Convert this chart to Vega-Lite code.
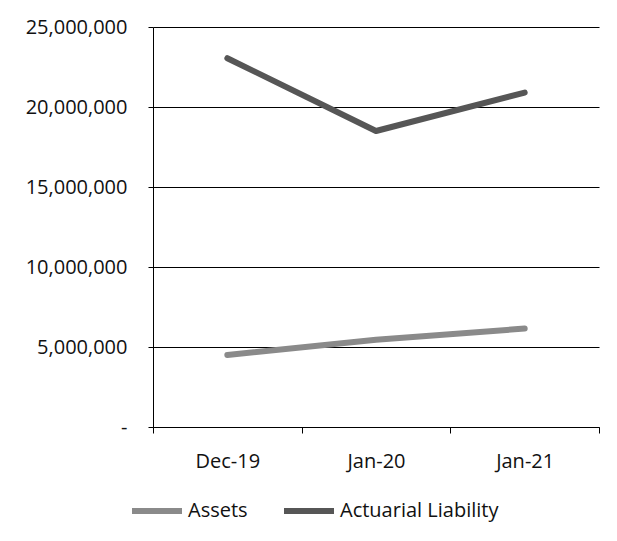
{
  "$schema": "https://vega.github.io/schema/vega-lite/v6.json",
  "width": 446,
  "height": 400,
  "autosize": {"type": "none"},
  "padding": {"left": 153, "top": 27, "right": 18, "bottom": 114},
  "background": "white",
  "config": {
    "view": {"stroke": null},
    "font": "Open Sans"
  },
  "data": {
    "values": [
      {"period": "Dec-19", "series": "Assets", "value": 4500000},
      {"period": "Jan-20", "series": "Assets", "value": 5450000},
      {"period": "Jan-21", "series": "Assets", "value": 6150000},
      {"period": "Dec-19", "series": "Actuarial Liability", "value": 23050000},
      {"period": "Jan-20", "series": "Actuarial Liability", "value": 18500000},
      {"period": "Jan-21", "series": "Actuarial Liability", "value": 20900000}
    ]
  },
  "mark": {"type": "line", "strokeWidth": 6, "strokeCap": "round", "strokeJoin": "round"},
  "encoding": {
    "x": {
      "field": "period",
      "type": "ordinal",
      "sort": ["Dec-19", "Jan-20", "Jan-21"],
      "scale": {"type": "band", "paddingInner": 0, "paddingOuter": 0},
      "axis": {
        "title": null,
        "labelAngle": 0,
        "labelFont": "Open Sans",
        "labelFontSize": 20,
        "labelColor": "#111",
        "domainColor": "#000",
        "tickColor": "#000",
        "tickBand": "extent",
        "tickSize": 6,
        "labelPadding": 18,
        "grid": false
      }
    },
    "y": {
      "field": "value",
      "type": "quantitative",
      "scale": {"domain": [0, 25000000], "nice": false},
      "axis": {
        "title": null,
        "values": [0, 5000000, 10000000, 15000000, 20000000, 25000000],
        "labelExpr": "datum.value == 0 ? '-' : format(datum.value, ',')",
        "labelFont": "Open Sans",
        "labelFontSize": 20,
        "labelColor": "#111",
        "domainColor": "#000",
        "tickColor": "#000",
        "tickSize": 5,
        "labelPadding": 21,
        "grid": true,
        "gridColor": "#000",
        "gridWidth": 1
      }
    },
    "color": {
      "field": "series",
      "type": "nominal",
      "scale": {"domain": ["Assets", "Actuarial Liability"], "range": ["#8a8a8a", "#565656"]},
      "legend": {
        "title": null,
        "orient": "none",
        "legendX": -24,
        "legendY": 456,
        "direction": "horizontal",
        "symbolType": "stroke",
        "symbolStrokeWidth": 6,
        "symbolSize": 2500,
        "labelFontSize": 20,
        "labelFont": "Open Sans",
        "labelColor": "#111",
        "columnPadding": 24,
        "labelOffset": 3
      }
    }
  }
}
